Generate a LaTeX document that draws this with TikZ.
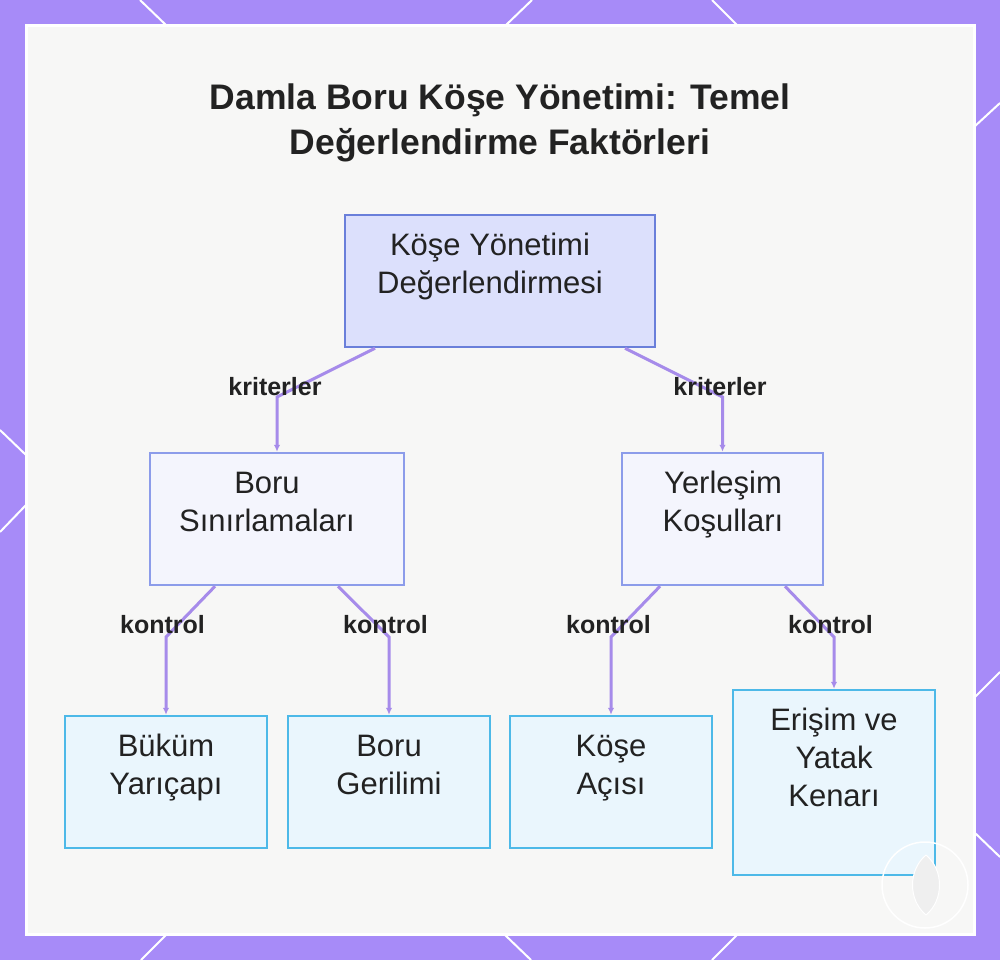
\documentclass[tikz,border=0pt]{standalone}
\usepackage{fontspec}
\setmainfont{Liberation Sans}
\usetikzlibrary{arrows.meta}
\definecolor{bordpurple}{HTML}{A78BF8}
\definecolor{panelbg}{HTML}{F7F7F6}
\definecolor{rootfill}{HTML}{DCE0FC}
\definecolor{rootdraw}{HTML}{6A7FDA}
\definecolor{midfill}{HTML}{F4F5FD}
\definecolor{middraw}{HTML}{8C9CEA}
\definecolor{leaffill}{HTML}{EAF6FD}
\definecolor{leafdraw}{HTML}{4DB9E8}
\definecolor{connc}{HTML}{A68BEA}
\definecolor{txt}{HTML}{222222}
\definecolor{lensc}{HTML}{EFEFEF}
\tikzset{
  rootbox/.style={draw=rootdraw, fill=rootfill, line width=2.5pt, inner sep=0pt},
  midbox/.style={draw=middraw, fill=midfill, line width=2.5pt, inner sep=0pt},
  leafbox/.style={draw=leafdraw, fill=leaffill, line width=2.5pt, inner sep=0pt},
  boxtext/.style={anchor=base, inner sep=0pt, text=txt, font=\fontsize{31}{38}\selectfont},
  titletext/.style={anchor=base, inner sep=0pt, text=txt, font=\fontsize{35.5}{44}\selectfont\bfseries},
  edgelabel/.style={anchor=base, inner sep=0pt, text=txt, font=\fontsize{25}{30}\selectfont\bfseries},
  conn/.style={draw=connc, line width=3pt, -{Latex[length=7pt,width=6.5pt]}},
  deco/.style={draw=white, line width=2pt}
}
\begin{document}
\begin{tikzpicture}[x=1pt,y=-1pt]
\useasboundingbox (0,0) rectangle (1000,960);
% frame
\fill[bordpurple] (0,0) rectangle (1000,960);
\draw[deco] (140,0) -- (167,26);
\draw[deco] (532,0) -- (505,26);
\draw[deco] (712,0) -- (738,26);
\draw[deco] (1000,103) -- (974,127);
\draw[deco] (0,430) -- (26,455);
\draw[deco] (26,505) -- (0,532);
\draw[deco] (974,698) -- (1000,672);
\draw[deco] (974,832) -- (1000,857);
\draw[deco] (167,934) -- (141,960);
\draw[deco] (504,934) -- (531,960);
\draw[deco] (738,934) -- (712,960);
\draw[draw=white, line width=3pt, fill=panelbg] (26,26) rectangle (974,934);

% title
\node[titletext] (title1) at (500,110) {Damla Boru Köşe Yönetimi: Temel};
\node[titletext] (title2) at (500,155) {Değerlendirme Faktörleri};

% boxes
\node[rootbox, minimum width=310pt, minimum height=132pt] (root) at (500,281) {};
\node[midbox, minimum width=254pt, minimum height=132pt] (boru) at (277,519) {};
\node[midbox, minimum width=201pt, minimum height=132pt] (yer) at (722.5,519) {};
\node[leafbox, minimum width=202pt, minimum height=132pt] (leafA) at (166,782) {};
\node[leafbox, minimum width=202pt, minimum height=132pt] (leafB) at (389,782) {};
\node[leafbox, minimum width=202pt, minimum height=132pt] (leafC) at (611,782) {};
\node[leafbox, minimum width=202pt, minimum height=185pt] (leafD) at (834,782.5) {};

% box texts
\node[boxtext] (rootT1) at (490,255) {Köşe Yönetimi};
\node[boxtext] (rootT2) at (490,293) {Değerlendirmesi};
\node[boxtext] (boruT1) at (267,493) {Boru};
\node[boxtext] (boruT2) at (267,531) {Sınırlamaları};
\node[boxtext] (yerT1) at (723,493) {Yerleşim};
\node[boxtext] (yerT2) at (723,531) {Koşulları};
\node[boxtext] (leafAT1) at (166,756) {Büküm};
\node[boxtext] (leafAT2) at (166,794) {Yarıçapı};
\node[boxtext] (leafBT1) at (389,756) {Boru};
\node[boxtext] (leafBT2) at (389,794) {Gerilimi};
\node[boxtext] (leafCT1) at (611,756) {Köşe};
\node[boxtext] (leafCT2) at (611,794) {Açısı};
\node[boxtext] (leafDT1) at (834,730) {Erişim ve};
\node[boxtext] (leafDT2) at (834,768) {Yatak};
\node[boxtext] (leafDT3) at (834,806) {Kenarı};

% bend points
\coordinate (bA) at (277,397);
\coordinate (bB) at (722.5,397);
\coordinate (bC) at (166,637);
\coordinate (bD) at (389,637);
\coordinate (bE) at (611,637);
\coordinate (bF) at (834,637);

% connectors
\draw[conn] ([xshift=-125pt]root.south) -- (bA) -- (boru.north);
\draw[conn] ([xshift=125pt]root.south) -- (bB) -- (yer.north);
\draw[conn] ([xshift=-62pt]boru.south) -- (bC) -- (leafA.north);
\draw[conn] ([xshift=61pt]boru.south) -- (bD) -- (leafB.north);
\draw[conn] ([xshift=-62.5pt]yer.south) -- (bE) -- (leafC.north);
\draw[conn] ([xshift=62.5pt]yer.south) -- (bF) -- (leafD.north);

% edge labels
\node[edgelabel] (lab1) at (275,395) {kriterler};
\node[edgelabel] (lab2) at (720,395) {kriterler};
\node[edgelabel] (lab3) at (162.5,633) {kontrol};
\node[edgelabel] (lab4) at (385.5,633) {kontrol};
\node[edgelabel] (lab5) at (608.5,633) {kontrol};
\node[edgelabel] (lab6) at (830.5,633) {kontrol};

% corner mark
\draw[draw=white, line width=1.5pt] (925,885) circle (43);
\draw[draw=white, line width=1pt, fill=lensc] (926,855) .. controls (944,870) and (944,900) .. (926,915) .. controls (908,900) and (908,870) .. (926,855);
\end{tikzpicture}
\end{document}
